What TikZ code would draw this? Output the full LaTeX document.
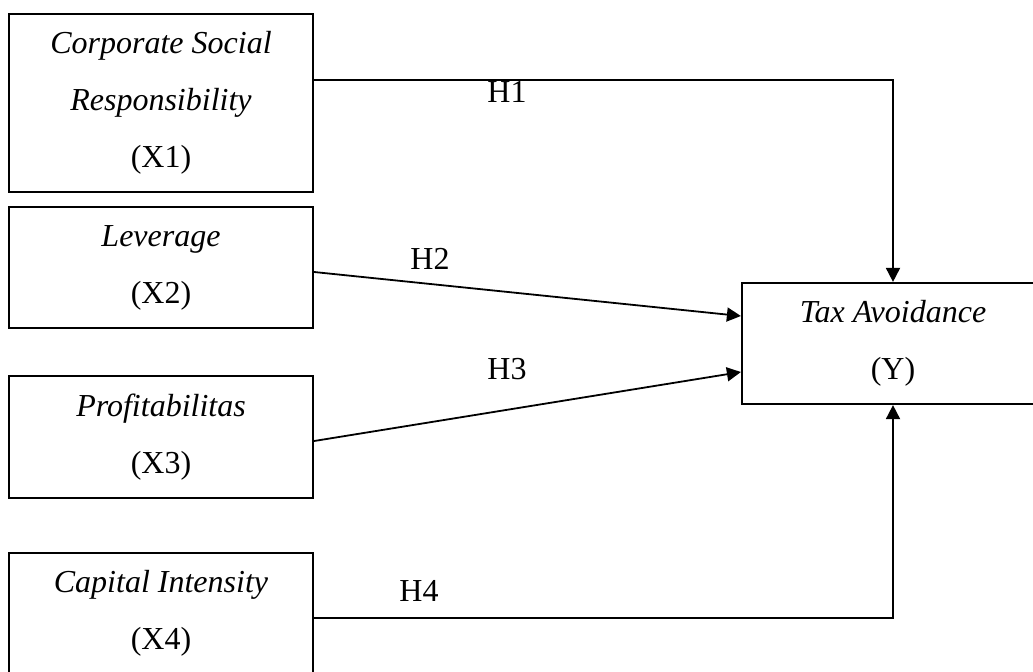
\documentclass[tikz,border=0pt]{standalone}
\usepackage{fontspec}
\setmainfont{Liberation Serif}
\usepackage{tikz}
\usetikzlibrary{arrows.meta}
\tikzset{
  varbox/.style={draw, line width=1.1pt, minimum width=152pt, align=center, inner sep=0pt, font=\fontsize{16}{28.5}\selectfont},
  hyparrow/.style={line width=0.9pt, -{Triangle[length=7pt,width=7pt]}},
  hyplabel/.style={font=\fontsize{16}{19}\selectfont, inner sep=0pt}
}

\begin{document}
\begin{tikzpicture}[x=0.5pt,y=-0.5pt]
        \useasboundingbox (0,0) rectangle (1033,671);
        \clip (0,0) rectangle (1033,671);

        % variabel independen
        \node[varbox, minimum height=89pt] (x1) at (161,103) {\textit{Corporate Social}\\\textit{Responsibility}\\(X1)};
        \node[varbox, minimum height=60.5pt] (x2) at (161,267.5) {\textit{Leverage}\\(X2)};
        \node[varbox, minimum height=61pt] (x3) at (161,437) {\textit{Profitabilitas}\\(X3)};
        \node[varbox, minimum height=60.5pt] (x4) at (161,613.5) {\textit{Capital Intensity}\\(X4)};

        % variabel dependen
        \node[varbox, minimum width=151pt, minimum height=60.5pt] (y) at (893,343.5) {\textit{Tax Avoidance}\\(Y)};

        % hipotesis
        \draw[hyparrow] ([yshift=11.5pt]x1.east) -| (y.north);
        \draw[hyparrow] ([yshift=-2.25pt]x2.east) -- ([yshift=13.75pt]y.west);
        \draw[hyparrow] ([yshift=-2pt]x3.east) -- ([yshift=-14.25pt]y.west);
        \draw[hyparrow] ([yshift=-2.25pt]x4.east) -| (y.south);

        \draw (507,92) node[hyplabel] (h1) {H1};
        \draw (430,259) node[hyplabel] (h2) {H2};
        \draw (507,369) node[hyplabel] (h3) {H3};
        \draw (419,591) node[hyplabel] (h4) {H4};
    \end{tikzpicture}
\end{document}
